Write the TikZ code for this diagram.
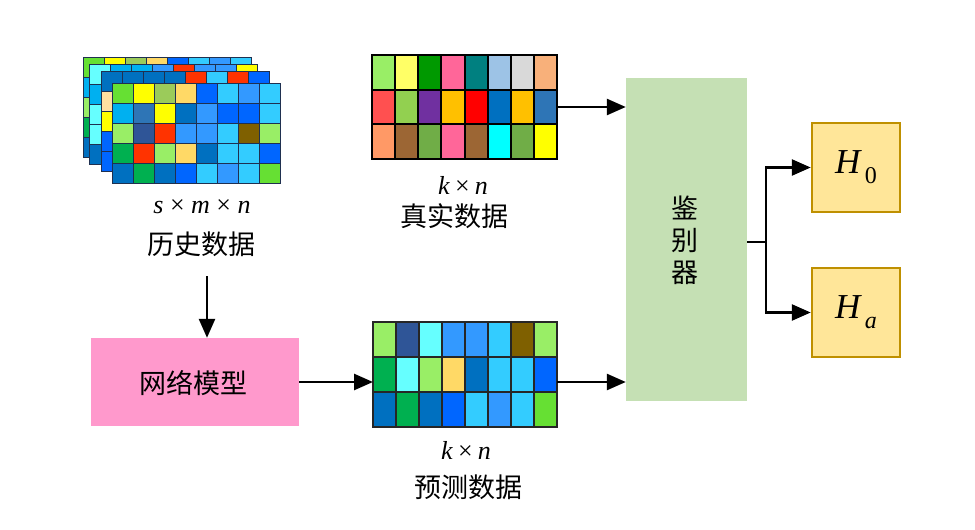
\documentclass[tikz,border=0pt]{standalone}
\usepackage{fontspec}
\newfontfamily\cjk{Noto Sans CJK SC}
\newfontfamily\tnr{Liberation Serif}
\usetikzlibrary{arrows.meta,calc}
% grid colours
\definecolor{cLime}{HTML}{66E033}
\definecolor{cYel}{HTML}{FFFF00}
\definecolor{cOli}{HTML}{9BCB5A}
\definecolor{cOra}{HTML}{FFD966}
\definecolor{cBlu}{HTML}{0066FF}
\definecolor{cSky}{HTML}{33CCFF}
\definecolor{cMed}{HTML}{3399FF}
\definecolor{cCya}{HTML}{00B0F0}
\definecolor{cSteel}{HTML}{2E75B6}
\definecolor{cDkb}{HTML}{0070C0}
\definecolor{cNavy}{HTML}{2F5597}
\definecolor{cRed}{HTML}{FF3300}
\definecolor{cBrn}{HTML}{7F6000}
\definecolor{cLgr}{HTML}{99EE66}
\definecolor{cGrn}{HTML}{00B050}
\definecolor{cAqua}{HTML}{66FFFF}
\definecolor{cPeach}{HTML}{FFE0A0}
% real-data colours
\definecolor{rLyel}{HTML}{FFFF66}
\definecolor{rGreen}{HTML}{009900}
\definecolor{rPink}{HTML}{FF6699}
\definecolor{rTeal}{HTML}{008080}
\definecolor{rLblue}{HTML}{9DC3E6}
\definecolor{rGray}{HTML}{D9D9D9}
\definecolor{rPeach}{HTML}{F8B07A}
\definecolor{rRed}{HTML}{FF5050}
\definecolor{rYgreen}{HTML}{92D050}
\definecolor{rPurple}{HTML}{7030A0}
\definecolor{rAmber}{HTML}{FFC000}
\definecolor{rPure}{HTML}{FF0000}
\definecolor{rOrange}{HTML}{FF9966}
\definecolor{rBrown}{HTML}{9C6634}
\definecolor{rMgreen}{HTML}{70AD47}
\definecolor{rCyan}{HTML}{00FFFF}
% boxes
\definecolor{discFill}{HTML}{C5E0B4}
\definecolor{netFill}{HTML}{FF99CC}
\definecolor{hFill}{HTML}{FFE699}
\definecolor{hLine}{HTML}{BF9000}
\definecolor{histLine}{HTML}{1F3050}

% #1 x0, #2 y0, #3 cell width, #4 cell height, #5 rows, #6 line style
\newcommand\cellgrid[6]{%
  \foreach \rw [count=\j from 0] in {#5} {%
    \foreach \cc [count=\i from 0] in \rw {%
      \filldraw[fill=\cc, #6] ({#1+\i*#3},{#2+\j*#4}) rectangle ++(#3,#4);
    }%
  }%
}

\begin{document}
\begin{tikzpicture}[x=1pt,y=-1pt,
  arr/.style={line width=2.6pt, -{Triangle[length=19pt,width=16pt]}},
  plain/.style={line width=2.6pt},
  cjktext/.style={font=\cjk\fontsize{27}{32}\selectfont, inner sep=0pt},
  mathtext/.style={font=\tnr\fontsize{26}{30}\selectfont, inner sep=0pt},
  histcell/.style={draw=histLine, line width=0.8pt},
  realcell/.style={draw=black, line width=2pt},
  predcell/.style={draw=black!85, line width=1.8pt},
  gridnode/.style={inner sep=0pt, outer sep=0pt},
  hbox/.style={draw=hLine, line width=2.5pt, fill=hFill, minimum width=88pt, minimum height=89pt, inner sep=0pt, font=\tnr\fontsize{35}{40}\selectfont}
]
\useasboundingbox (0,0) rectangle (975,530);

% ---------- history data stack ----------
\cellgrid{83}{57}{21}{20}{
 {cLime,cYel,cOli,cOra,cBlu,cSky,cMed,cSky},
 {cCya,cCya,cCya,cCya,cCya,cCya,cCya,cCya},
 {cLgr,cLgr,cLgr,cLgr,cLgr,cLgr,cLgr,cLgr},
 {cGrn,cGrn,cGrn,cGrn,cGrn,cGrn,cGrn,cGrn},
 {cDkb,cDkb,cDkb,cDkb,cDkb,cDkb,cDkb,cDkb}}{histcell}
\cellgrid{89}{64}{21}{20}{
 {cAqua,cCya,cCya,cMed,cRed,cMed,cMed,cYel},
 {cCya,cCya,cCya,cCya,cCya,cCya,cCya,cCya},
 {cAqua,cAqua,cAqua,cAqua,cAqua,cAqua,cAqua,cAqua},
 {cAqua,cAqua,cAqua,cAqua,cAqua,cAqua,cAqua,cAqua},
 {cDkb,cDkb,cDkb,cDkb,cDkb,cDkb,cDkb,cDkb}}{histcell}
\cellgrid{101}{71}{21}{20}{
 {cDkb,cDkb,cDkb,cDkb,cRed,cSky,cRed,cBlu},
 {cPeach,cPeach,cPeach,cPeach,cPeach,cPeach,cPeach,cPeach},
 {cYel,cYel,cYel,cYel,cYel,cYel,cYel,cYel},
 {cBlu,cBlu,cBlu,cBlu,cBlu,cBlu,cBlu,cBlu},
 {cBlu,cBlu,cBlu,cBlu,cBlu,cBlu,cBlu,cBlu}}{histcell}
\cellgrid{112}{83}{21}{20}{
 {cLime,cYel,cOli,cOra,cBlu,cSky,cMed,cSky},
 {cCya,cSteel,cYel,cDkb,cMed,cBlu,cBlu,cSky},
 {cLgr,cNavy,cRed,cMed,cMed,cSky,cBrn,cLgr},
 {cGrn,cRed,cLgr,cOra,cDkb,cSky,cSky,cBlu},
 {cDkb,cGrn,cDkb,cBlu,cSky,cMed,cSky,cLime}}{histcell}
\node[gridnode, minimum width=197pt, minimum height=126pt] (hist) at (181.5,120) {};

\node[mathtext] (histdim) at (202,207) {\textit{s}\kern6.5pt×\kern6.5pt\textit{m}\kern6.5pt×\kern6.5pt\textit{n}};
\node[cjktext] (histlab) at (201,244) {历史数据};

% ---------- real data ----------
\cellgrid{372}{55}{23.125}{34.667}{
 {cLgr,rLyel,rGreen,rPink,rTeal,rLblue,rGray,rPeach},
 {rRed,rYgreen,rPurple,rAmber,rPure,cDkb,rAmber,cSteel},
 {rOrange,rBrown,rMgreen,rPink,rBrown,rCyan,rMgreen,cYel}}{realcell}
\node[gridnode, minimum width=185pt, minimum height=104pt] (real) at (464.5,107) {};
\node[mathtext] (realdim) at (463,185) {\textit{k}\kern5pt×\kern5pt\textit{n}};
\node[cjktext] (reallab) at (454,216) {真实数据};

% ---------- predicted data ----------
\cellgrid{373}{322}{23}{35}{
 {cLgr,cNavy,cAqua,cMed,cMed,cSky,cBrn,cLgr},
 {cGrn,cAqua,cLgr,cOra,cDkb,cSky,cSky,cBlu},
 {cDkb,cGrn,cDkb,cBlu,cSky,cMed,cSky,cLime}}{predcell}
\node[gridnode, minimum width=184pt, minimum height=105pt] (pred) at (465,374.5) {};
\node[mathtext] (preddim) at (466,450) {\textit{k}\kern5pt×\kern5pt\textit{n}};
\node[cjktext] (predlab) at (468,487) {预测数据};

% ---------- boxes ----------
\node[fill=netFill, minimum width=208pt, minimum height=88pt, inner sep=0pt] (net) at (195,382) {};
\node[cjktext] (netlab) at (193,383) {网络模型};

\node[fill=discFill, minimum width=121pt, minimum height=323pt, inner sep=0pt] (disc) at (686.5,239.5) {};
\node[cjktext, align=center] (disclab) at (685,240) {鉴\\别\\器};

\node[hbox] (h0) at (856,167.5) {\textit{H}\kern3pt\raisebox{-10pt}{\fontsize{24}{24}\selectfont 0}};
\node[hbox] (ha) at (856,312.5) {\textit{H}\kern3pt\raisebox{-10pt}{\fontsize{24}{24}\selectfont\itshape a}};

% ---------- connectors ----------
\coordinate (histout) at (207,276);
\draw[arr] (histout) -- (histout |- net.north);
\draw[arr] (net.east) -- (net.east -| pred.west);
\draw[arr] (real.east) -- (real.east -| disc.west);
\draw[arr] (pred.east |- net.east) -- (disc.west |- net.east);
\coordinate (branch) at (766,242);
\draw[plain] (disc.east |- branch) -- (branch);
\draw[arr] (branch) |- (h0.west);
\draw[arr] (branch) |- (ha.west);
\end{tikzpicture}
\end{document}
